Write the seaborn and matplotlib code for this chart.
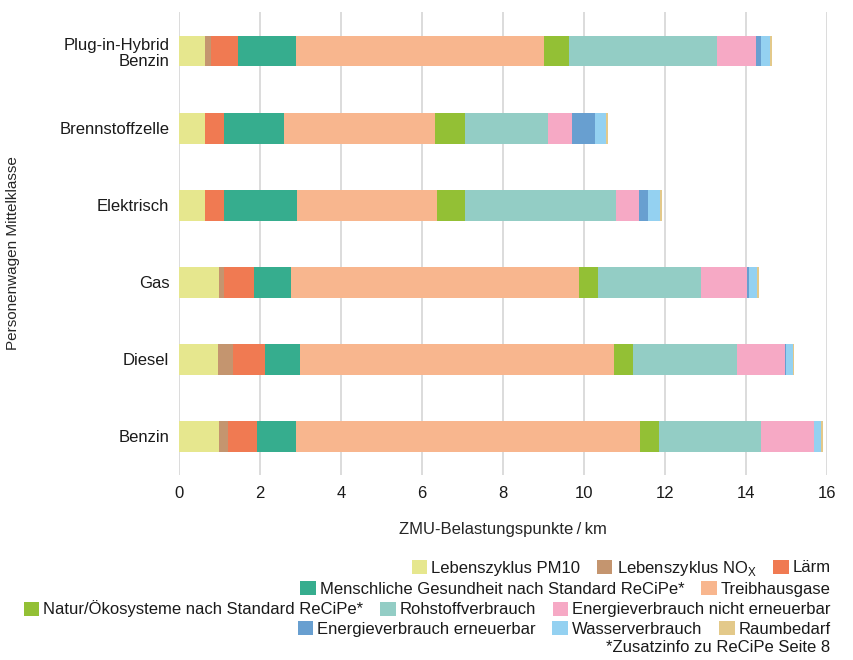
import numpy as np
import seaborn as sns
import matplotlib.pyplot as plt
from matplotlib.patches import Patch

# ----------------------------------------
# Data
# ----------------------------------------
cats = ["Plug-in-Hybrid\nBenzin", "Brennstoffzelle", "Elektrisch", "Gas", "Diesel", "Benzin"]

pm10 = [0.65, 0.65, 0.65, 0.99, 0.97, 0.99]
nox = [0.15, 0.00, 0.00, 0.11, 0.36, 0.21]
laerm = [0.66, 0.47, 0.47, 0.76, 0.79, 0.73]
gesundheit = [1.43, 1.47, 1.79, 0.90, 0.87, 0.96]
treibhaus = [6.13, 3.72, 3.47, 7.12, 7.75, 8.49]
natur = [0.62, 0.74, 0.67, 0.47, 0.47, 0.47]
rohstoff = [3.64, 2.05, 3.74, 2.55, 2.56, 2.53]
energie_nicht = [0.96, 0.61, 0.56, 1.13, 1.19, 1.29]
energie_ern = [0.14, 0.57, 0.23, 0.05, 0.02, 0.02]
wasser = [0.21, 0.26, 0.30, 0.18, 0.17, 0.17]
raum = [0.06, 0.06, 0.04, 0.07, 0.04, 0.05]

labels = [
    "Lebenszyklus PM10",
    "Lebenszyklus NO$_\\mathrm{X}$",
    "Lärm",
    "Menschliche Gesundheit nach Standard ReCiPe*",
    "Treibhausgase",
    "Natur/Ökosysteme nach Standard ReCiPe*",
    "Rohstoffverbrauch",
    "Energieverbrauch nicht erneuerbar",
    "Energieverbrauch erneuerbar",
    "Wasserverbrauch",
    "Raumbedarf",
]
colors = ["#e6e78e", "#c4956f", "#f07a52", "#36ad8e", "#f8b68e", "#93c035",
          "#93cdc5", "#f6a9c5", "#689fd0", "#94d1f1", "#e3c98a"]

series = [pm10, nox, laerm, gesundheit, treibhaus, natur, rohstoff,
          energie_nicht, energie_ern, wasser, raum]

# ----------------------------------------
# Styling
# ----------------------------------------
sns.set_style("white")
plt.rcParams["font.family"] = ["Liberation Sans", "DejaVu Sans"]
plt.rcParams["mathtext.fontset"] = "custom"
plt.rcParams["mathtext.rm"] = "Liberation Sans"
plt.rcParams["text.color"] = "#1a1a1a"

fig = plt.figure(figsize=(8.54, 6.6), dpi=100)
ax = fig.add_axes([0.2096, 0.2803, 0.7588, 0.7008])

# stacked bars: draw cumulative totals from the last segment to the first
cum = np.cumsum(np.array(series), axis=0)
for i in range(len(series) - 1, -1, -1):
    sns.barplot(x=cum[i], y=cats, order=cats, orient="h", color=colors[i],
                saturation=1, width=0.4, linewidth=0, ax=ax)

ax.set_xlim(0, 16)
ax.set_ylim(5.5, -0.5)
ax.set_xticks(range(0, 17, 2))
ax.grid(axis="x", color="#d9d9d9", linewidth=1.3)
ax.grid(axis="y", visible=False)
ax.set_axisbelow(True)
sns.despine(ax=ax, left=True, bottom=True)

ax.tick_params(axis="both", length=0, labelsize=12, colors="#1a1a1a")
ax.tick_params(axis="y", pad=7)
ax.tick_params(axis="x", pad=8)
for t in ax.get_yticklabels():
    t.set_linespacing(1.15)

ax.set_xlabel("ZMU-Belastungspunkte\u2009/\u2009km", fontsize=12, labelpad=15)
ax.set_ylabel("Personenwagen Mittelklasse", fontsize=11)
ax.yaxis.set_label_coords(-0.246, 0.48)

# ----------------------------------------
# Legend: four right-aligned rows
# ----------------------------------------
rows = [[0, 1, 2], [3, 4], [5, 6, 7], [8, 9, 10]]
row_y = [568, 589, 609, 629]
for idx, yy in zip(rows, row_y):
    handles = [Patch(facecolor=colors[k], edgecolor="none", label=labels[k]) for k in idx]
    fig.legend(handles=handles, loc="center right", ncol=len(idx),
               bbox_to_anchor=(831 / 854, 1 - yy / 660), frameon=False,
               fontsize=12, handlelength=0.93, handleheight=0.93,
               handletextpad=0.25, columnspacing=1.0, borderpad=0,
               borderaxespad=0)

fig.text(830 / 854, 1 - 648 / 660, "*Zusatzinfo zu ReCiPe Seite 8",
         ha="right", va="center", fontsize=12)

fig.savefig("out.png", dpi=100)
